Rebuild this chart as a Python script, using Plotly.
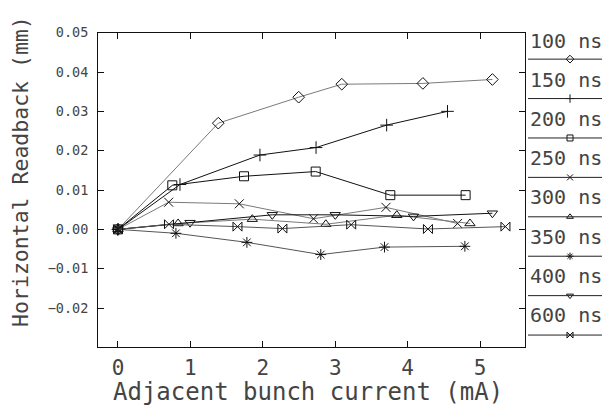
import plotly.graph_objects as go

# ---------------- data ----------------
labels = ["100 ns", "150 ns", "200 ns", "250 ns", "300 ns", "350 ns", "400 ns", "600 ns"]
symbols = ["diamond-open", "cross-thin-open", "square-open", "x-thin-open",
           "triangle-up-open", "asterisk-open", "triangle-down-open", "bowtie-open"]
line_colors = ["#7a7a7a", "#111111", "#111111", "#7a7a7a",
               "#7a7a7a", "#555555", "#111111", "#555555"]

s100_x = [0, 1.385, 2.495, 3.09, 4.21, 5.17]
s100_y = [0, 0.0270, 0.0336, 0.0369, 0.0371, 0.0381]
s150_x = [0, 0.856, 1.96, 2.735, 3.71, 4.55]
s150_y = [0, 0.0114, 0.0189, 0.0208, 0.0265, 0.0300]
s200_x = [0, 0.75, 1.74, 2.73, 3.76, 4.80]
s200_y = [0, 0.0112, 0.0135, 0.0147, 0.0087, 0.0087]
s250_x = [0, 0.70, 1.675, 2.70, 3.70, 4.69]
s250_y = [0, 0.0069, 0.0065, 0.0027, 0.0056, 0.0015]
s300_x = [0, 0.83, 1.855, 2.87, 3.85, 4.86]
s300_y = [0, 0.0015, 0.0026, 0.0013, 0.0036, 0.0015]
s350_x = [0, 0.80, 1.78, 2.80, 3.68, 4.79]
s350_y = [0, -0.0010, -0.0033, -0.0064, -0.0045, -0.0043]
s400_x = [0, 0.995, 2.13, 3.0, 4.08, 5.17]
s400_y = [0, 0.0017, 0.0037, 0.0037, 0.0033, 0.0041]
s600_x = [0, 0.704, 1.65, 2.27, 3.22, 4.28, 5.35]
s600_y = [0, 0.0013, 0.0007, 0.0002, 0.0012, 0.0001, 0.0007]

xs = [s100_x, s150_x, s200_x, s250_x, s300_x, s350_x, s400_x, s600_x]
ys = [s100_y, s150_y, s200_y, s250_y, s300_y, s350_y, s400_y, s600_y]

x_ticks = [0, 1, 2, 3, 4, 5]
y_ticks = [-0.02, -0.01, 0.00, 0.01, 0.02, 0.03, 0.04, 0.05]
y_tick_text = ["\u22120.02", "\u22120.01", "0.00", "0.01", "0.02", "0.03", "0.04", "0.05"]

# ---------------- layout geometry ----------------
W, H = 610, 410
OFF = 8  # page body margin: screen coordinate = figure coordinate + OFF
L, R, T, B = 98 - OFF, 525 - OFF, 25 - OFF, 346 - OFF
FONT = "DejaVu Sans Mono"
TXT = "#444444"


def px(x):
    return (x - OFF) / W


def py(y):
    return 1 - (y - OFF) / H


fig = go.Figure()

for i in range(len(labels)):
    fig.add_trace(go.Scatter(
        x=xs[i], y=ys[i], mode="lines+markers", name=labels[i],
        line=dict(color=line_colors[i], width=1),
        marker=dict(symbol=symbols[i], size=9, color="#111111",
                    line=dict(width=1, color="#111111")),
        xaxis="x", yaxis="y", showlegend=False, hoverinfo="skip"))

# custom legend (screen pixel positions)
leg_x0, leg_x1, leg_mx = 528, 612, 570
for i, lab in enumerate(labels):
    ty = 33 + 40 * i
    ly = 52 + 40.2 * i
    fig.add_shape(type="line", xref="paper", yref="paper",
                  x0=px(leg_x0), x1=px(leg_x1), y0=py(ly), y1=py(ly),
                  line=dict(color="#222222", width=1))
    fig.add_annotation(xref="paper", yref="paper", x=px(528), y=py(ty), text=lab,
                       showarrow=False, xanchor="left", yanchor="middle",
                       font=dict(family=FONT, size=20, color=TXT))
    fig.add_trace(go.Scatter(x=[leg_mx - OFF], y=[ly - OFF], mode="markers",
                             xaxis="x2", yaxis="y2",
                             marker=dict(symbol=symbols[i], size=6, color="#111111",
                                         line=dict(width=1, color="#111111")),
                             showlegend=False, hoverinfo="skip", cliponaxis=False))

fig.add_annotation(xref="paper", yref="paper", x=px(308), y=py(391),
                   text="Adjacent bunch current (mA)", showarrow=False,
                   xanchor="center", yanchor="middle",
                   font=dict(family=FONT, size=24, color=TXT))
fig.add_annotation(xref="paper", yref="paper", x=px(21), y=py(167),
                   text="Horizontal Readback (mm)", showarrow=False, textangle=-90,
                   xanchor="center", yanchor="middle",
                   font=dict(family=FONT, size=21.5, color=TXT))

axis_common = dict(showgrid=False, zeroline=False, showline=True, linecolor="#111111",
                   linewidth=1, mirror="ticks", ticks="inside", ticklen=6,
                   tickcolor="#111111", tickwidth=1)

fig.update_layout(
    width=W, height=H,
    margin=dict(l=0, r=0, t=0, b=0),
    paper_bgcolor="white", plot_bgcolor="rgba(0,0,0,0)",
    showlegend=False,
    xaxis=dict(domain=[L / W, R / W], range=[-0.276, 5.62],
               tickvals=x_ticks, ticktext=[str(v) for v in x_ticks],
               tickfont=dict(family=FONT, size=21, color=TXT), ticklabelstandoff=1,
               **axis_common),
    yaxis=dict(domain=[1 - B / H, 1 - T / H], range=[-0.03, 0.05],
               tickvals=y_ticks, ticktext=y_tick_text,
               tickfont=dict(family=FONT, size=13.5, color=TXT), ticklabelstandoff=6,
               **axis_common),
    xaxis2=dict(domain=[0, 1], range=[0, W], visible=False, anchor="y2"),
    yaxis2=dict(domain=[0, 1], range=[H, 0], visible=False, anchor="x2"),
)

fig.write_html("out.html")
